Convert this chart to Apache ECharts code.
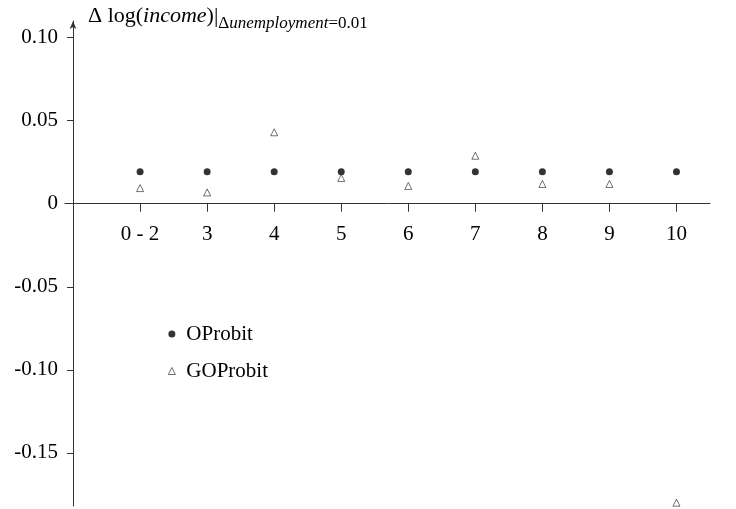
<!DOCTYPE html>
<html>
<head>
<meta charset="utf-8">
<script src="https://cdn.jsdelivr.net/npm/echarts@6/dist/echarts.min.js"></script>
<style>
  html, body { margin: 0; padding: 0; background: #fff; }
  #main { width: 736px; height: 509px; }
</style>
</head>
<body>
<div id="main"></div>
<script>
// 类别与数据
var categories = ["0 - 2", "3", "4", "5", "6", "7", "8", "9", "10"];
var oprobit = [0.0193, 0.0193, 0.0193, 0.0193, 0.0193, 0.0193, 0.0193, 0.0193, 0.0193];
var goprobit = [0.0094, 0.0068, 0.0430, 0.0155, 0.0107, 0.0289, 0.0119, 0.0119, -0.1800];
var yTicks = [0.10, 0.05, 0, -0.05, -0.10, -0.15];
var yTickLabels = ["0.10", "0.05", "0", "-0.05", "-0.10", "-0.15"];

var serif = "Liberation Serif";

// 网格与坐标范围
var gridTop = 21, gridBottom = 3;
var yMin = -0.182, yMax = 0.11;
var gridHeight = 509 - gridTop - gridBottom;
// x轴画在 y=0 处
var xAxisOffset = -(gridHeight * (0 - yMin) / (yMax - yMin));

function toPoints(arr) {
    var pts = [];
    for (var i = 0; i < arr.length; i++) {
        pts.push([i + 1, arr[i]]);
    }
    return pts;
}

var xPositions = [];
for (var i = 0; i < categories.length; i++) {
    xPositions.push(i + 1);
}

var option = {
    animation: false,
    backgroundColor: '#fff',
    grid: {
        left: 65,
        right: 26,
        top: gridTop,
        bottom: gridBottom,
        outerBoundsMode: 'none',
        containLabel: false
    },
    xAxis: {
        type: 'value',
        min: -0.12,
        max: 9.5,
        position: 'bottom',
        offset: xAxisOffset,
        axisLine: { onZero: false, lineStyle: { color: '#333', width: 1 } },
        axisTick: { customValues: xPositions, length: 8, lineStyle: { color: '#333' } },
        axisLabel: {
            customValues: xPositions,
            margin: 20,
            color: '#000',
            fontFamily: serif,
            fontSize: 21,
            formatter: function (v) {
                return categories[Math.round(v) - 1] || '';
            }
        },
        splitLine: { show: false }
    },
    yAxis: {
        type: 'value',
        min: yMin,
        max: yMax,
        axisLine: {
            show: true,
            onZero: true,
            symbol: ['none', 'arrow'],
            symbolSize: [5, 8],
            lineStyle: { color: '#333', width: 1 }
        },
        axisTick: { show: true, customValues: yTicks, length: 6, lineStyle: { color: '#333' } },
        axisLabel: {
            customValues: yTicks,
            margin: 7,
            color: '#000',
            fontFamily: serif,
            fontSize: 21,
            formatter: function (v) {
                for (var k = 0; k < yTicks.length; k++) {
                    if (Math.abs(yTicks[k] - v) < 1e-9) return yTickLabels[k];
                }
                return '';
            }
        },
        splitLine: { show: false }
    },
    legend: {
        orient: 'vertical',
        left: 163,
        top: 318,
        itemGap: 15,
        itemWidth: 7,
        itemHeight: 7,
        textStyle: { fontFamily: serif, fontSize: 21, lineHeight: 22, color: '#000', padding: [0, 0, 0, 6] },
        data: [
            { name: 'OProbit', icon: 'circle', itemStyle: { color: '#000', borderWidth: 0 } },
            { name: 'GOProbit', icon: 'triangle', itemStyle: { color: '#fff', borderColor: '#000', borderWidth: 0.7 } }
        ]
    },
    graphic: [
        {
            type: 'text',
            left: 88,
            top: 5,
            style: {
                text: '{n|Δ log(}{i|income}{n|)|}{s|Δ}{si|unemployment}{s|=0.01}',
                rich: {
                    n: { fontFamily: serif, fontSize: 22, color: '#000', lineHeight: 26, verticalAlign: 'bottom', padding: [0, 0, 5, 0] },
                    i: { fontFamily: serif, fontSize: 22, fontStyle: 'italic', color: '#000', lineHeight: 26, verticalAlign: 'bottom', padding: [0, 0, 5, 0] },
                    s: { fontFamily: serif, fontSize: 17, color: '#000', lineHeight: 18, verticalAlign: 'bottom' },
                    si: { fontFamily: serif, fontSize: 17, fontStyle: 'italic', color: '#000', lineHeight: 18, verticalAlign: 'bottom' }
                }
            }
        }
    ],
    series: [
        {
            name: 'OProbit',
            type: 'scatter',
            symbol: 'circle',
            symbolSize: 7,
            itemStyle: { color: '#000' },
            data: toPoints(oprobit)
        },
        {
            name: 'GOProbit',
            type: 'scatter',
            symbol: 'triangle',
            symbolSize: 7,
            itemStyle: { color: '#fff', borderColor: '#000', borderWidth: 0.7 },
            data: toPoints(goprobit)
        }
    ]
};

var dom_chart = echarts.init(document.getElementById('main'));
dom_chart.setOption(option);
</script>
</body>
</html>
